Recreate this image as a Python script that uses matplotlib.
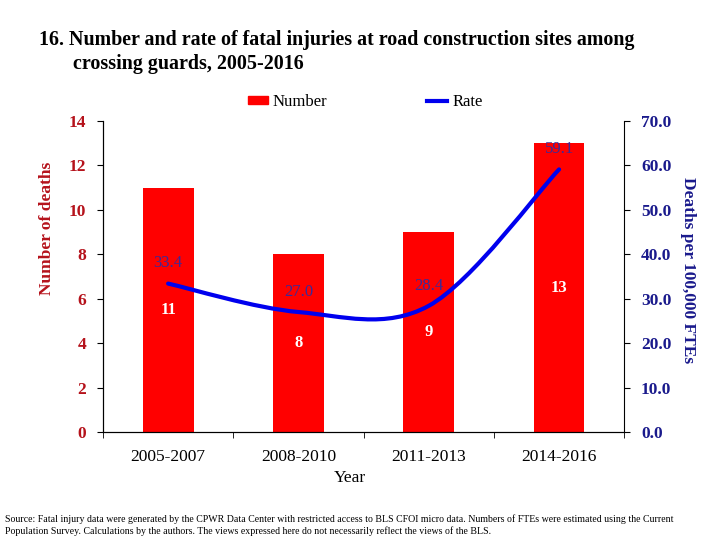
import numpy as np
import matplotlib.pyplot as plt
from matplotlib.path import Path
from matplotlib.patches import PathPatch, Patch
from matplotlib.lines import Line2D

plt.rcParams['font.family'] = ['Liberation Serif', 'DejaVu Serif']

# Dados do gráfico
periodos = ['2005-2007', '2008-2010', '2011-2013', '2014-2016']
numero = [11, 8, 9, 13]
taxa = [33.4, 27.0, 28.4, 59.1]

cor_barra = '#FF0000'
cor_linha = '#0000EE'
cor_esq = '#B5121B'
cor_dir = '#1A1A8C'
cor_rotulo = '#3A2A9A'

fig = plt.figure(figsize=(7.2, 5.4), dpi=100)
ax = fig.add_axes([0.143, 0.2, 0.724, 0.576])
ax2 = ax.twinx()

x = np.arange(len(periodos))
ax.bar(x, numero, width=0.39, color=cor_barra, zorder=2)
ax.set_xlim(-0.5, 3.5)
ax.set_ylim(0, 14)
ax.set_yticks(range(0, 15, 2))
ax2.set_ylim(0, 70)
ax2.set_yticks(range(0, 71, 10))
ax2.set_yticklabels([f'{v:.1f}' for v in range(0, 71, 10)])

# Rótulos das barras (centro)
for xi, n in zip(x, numero):
    ax.text(xi, n / 2, str(n), color='white', fontsize=12, fontweight='bold',
            ha='center', va='center', zorder=3)

# Linha suavizada (Bezier estilo Excel)
pts = list(zip(x.astype(float), taxa))
verts = [pts[0]]
codes = [Path.MOVETO]
for i in range(len(pts) - 1):
    p0 = np.array(pts[max(i - 1, 0)])
    p1 = np.array(pts[i])
    p2 = np.array(pts[i + 1])
    p3 = np.array(pts[min(i + 2, len(pts) - 1)])
    c1 = p1 + (p2 - p0) / 6
    c2 = p2 - (p3 - p1) / 6
    verts += [tuple(c1), tuple(c2), tuple(p2)]
    codes += [Path.CURVE4] * 3
ax2.add_patch(PathPatch(Path(verts, codes), fill=False, edgecolor=cor_linha,
                        lw=3, capstyle='round', zorder=4))

for xi, t in zip(x, taxa):
    ax2.annotate(f'{t:.1f}', (xi, t), xytext=(0, 14.5), textcoords='offset points',
                 ha='center', va='center', fontsize=12, color=cor_rotulo)

# Eixos
for a in (ax, ax2):
    a.spines['top'].set_visible(False)
ax.spines['right'].set_visible(False)
ax.set_xticks(x)
ax.set_xticklabels(periodos)
ax.set_xticks(np.arange(-0.5, 4, 1), minor=True)
ax.tick_params(axis='x', which='major', length=0, pad=12, labelsize=12.5)
ax.tick_params(axis='x', which='minor', length=4, direction='out')
ax.tick_params(axis='y', length=4, pad=8, labelsize=12.5, labelcolor=cor_esq)
ax2.tick_params(axis='y', length=4, pad=8, labelsize=12.5, labelcolor=cor_dir)
for lbl in ax.get_yticklabels() + ax2.get_yticklabels():
    lbl.set_fontweight('bold')

fig.text(0.065, 0.578, 'Number of deaths', rotation=90, ha='center', va='center',
         fontsize=12.5, color=cor_esq, fontweight='bold')
fig.text(0.955, 0.5, 'Deaths per 100,000 FTEs', rotation=-90, ha='center', va='center',
         fontsize=12.5, color=cor_dir, fontweight='bold')
fig.text(0.486, 0.114, 'Year', ha='center', va='center', fontsize=12.5)

fig.text(0.054, 0.925, '16. Number and rate of fatal injuries at road construction sites among',
         fontsize=14.4, fontweight='bold', va='center')
fig.text(0.102, 0.882, 'crossing guards, 2005-2016', fontsize=14.4, fontweight='bold', va='center')

handles = [Patch(color=cor_barra, label='Number'),
           Line2D([], [], color=cor_linha, lw=3, label='Rate')]
fig.legend(handles=handles, loc='center', bbox_to_anchor=(0.507, 0.811), ncol=2,
           frameon=False, fontsize=12, handlelength=1.2, handleheight=0.4,
           handletextpad=0.3, columnspacing=6.0)

fig.text(0.007, 0.039, 'Source: Fatal injury data were generated by the CPWR Data Center with restricted '
         'access to BLS CFOI micro data. Numbers of FTEs were estimated using the Current',
         fontsize=7.1, va='center')
fig.text(0.007, 0.017, 'Population Survey. Calculations by the authors. The views expressed here do not '
         'necessarily reflect the views of the BLS.', fontsize=7.1, va='center')

fig.savefig('out.png', dpi=100)
